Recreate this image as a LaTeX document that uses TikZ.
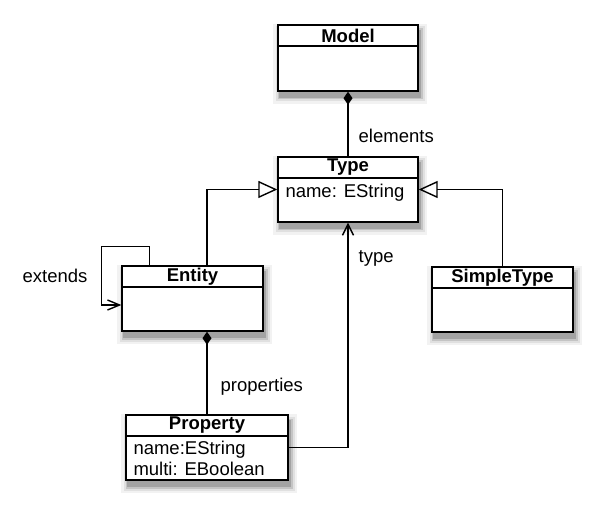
\documentclass[tikz,border=0pt]{standalone}
\usepackage{fontspec}
\newfontfamily\umlfont{Liberation Sans}
\usetikzlibrary{shapes, arrows.meta, shadows, calc}

\begin{document}
\begin{tikzpicture}[x=1pt, y=1pt]

% Styles for the class boxes, their titles and the connectors
\tikzset{
  umlshadow/.style={
    drop shadow={shadow xshift=2pt, shadow yshift=-6pt, opacity=1,
      fill=black!5, draw=black!5, line width=14pt, rounded corners=7pt},
    drop shadow={shadow xshift=2pt, shadow yshift=-6pt, opacity=1,
      fill=black!12, draw=black!12, line width=9pt, rounded corners=5pt},
    drop shadow={shadow xshift=2pt, shadow yshift=-6pt, opacity=1,
      fill=black!23, draw=black!23, line width=5pt, rounded corners=3pt},
    drop shadow={shadow xshift=2pt, shadow yshift=-6pt, opacity=1,
      fill=black!36, draw=black!36, line width=2pt, rounded corners=1pt}},
  umlclass/.style={draw, fill=white, line width=1.4pt, inner sep=0pt,
    minimum width=140pt, minimum height=65pt, umlshadow},
  umlhead/.style={draw, line width=1.4pt, inner sep=0pt, anchor=north,
    minimum height=21pt, font=\umlfont\fontsize{18.5}{20}\selectfont\bfseries},
  umlattr/.style={anchor=north west, inner sep=0pt, align=left,
    font=\umlfont\fontsize{18.5}{20}\selectfont},
  umllabel/.style={inner sep=0pt, font=\umlfont\fontsize{18.5}{20}\selectfont},
  umlline/.style={line width=1.4pt},
}

% Fix the page to the size of the reference
\useasboundingbox (0,0) rectangle (604,517);

% Model class at the top
\node[umlclass, minimum height=66pt] (model) at (348,459) {};
% Type class in the middle
\node[umlclass] (type) at (348,327.5) {};
% Entity and SimpleType side by side
\node[umlclass, minimum width=141pt] (entity) at (192.5,218.5) {};
\node[umlclass, minimum width=141pt] (simple) at (502.5,217.5) {};
% Property class at the bottom
\node[umlclass, minimum width=162pt] (property) at (207,69.5) {};

% Title compartments of the classes
\foreach \cls/\title/\w in {model/Model/140, type/Type/140, entity/Entity/141,
                            simple/SimpleType/141, property/Property/162} {
    \node[umlhead, minimum width=\w pt] (\cls head) at (\cls.north) {\title};
}

% Attributes
\node[umlattr] (typeattr) at ($(typehead.south west)+(8,-5)$) {name: EString};
\node[umlattr] (propattr) at ($(propertyhead.south west)+(8,-4)$) {name:EString\\[1pt]multi: EBoolean};

% Composition: Model holds the Types
\draw[umlline, -{Diamond[length=13pt, width=9pt]}] (type.north)
    -- node[umllabel, pos=0.32, right=10pt] (elementslbl) {elements} (model.south);

% Composition: Entity holds the Properties
\draw[umlline, -{Diamond[length=13pt, width=9pt]}] (property.north)
    -- node[umllabel, pos=0.33, right=13pt] (propertieslbl) {properties} (property.north |- entity.south);

% Reference from Property to its Type
\draw[umlline, -{Straight Barb[length=11pt, width=11pt]}] (property.east)
    -| node[umllabel, pos=0.92, right=10pt] (typelbl) {type} (type.south);

% Generalizations into Type
\draw[umlline, -{Triangle[open, length=19pt, width=17pt]}] (entity.north -| property.north) |- (type.west);
\draw[umlline, -{Triangle[open, length=19pt, width=17pt]}] (simple.north) |- (type.east);

% Entity extends itself
\coordinate (loopstart) at ($(entity.north west)+(28,0)$);
\coordinate (loopend) at ($(entity.west)+(-20,-6.5)$);
\draw[umlline, -{Straight Barb[length=12pt, width=10pt]}] (loopstart)
    -- ++(0,19) -| (loopend) -- (loopend -| entity.west);
\node[umllabel] (extendslbl) at (55,241) {extends};

\end{tikzpicture}
\end{document}
